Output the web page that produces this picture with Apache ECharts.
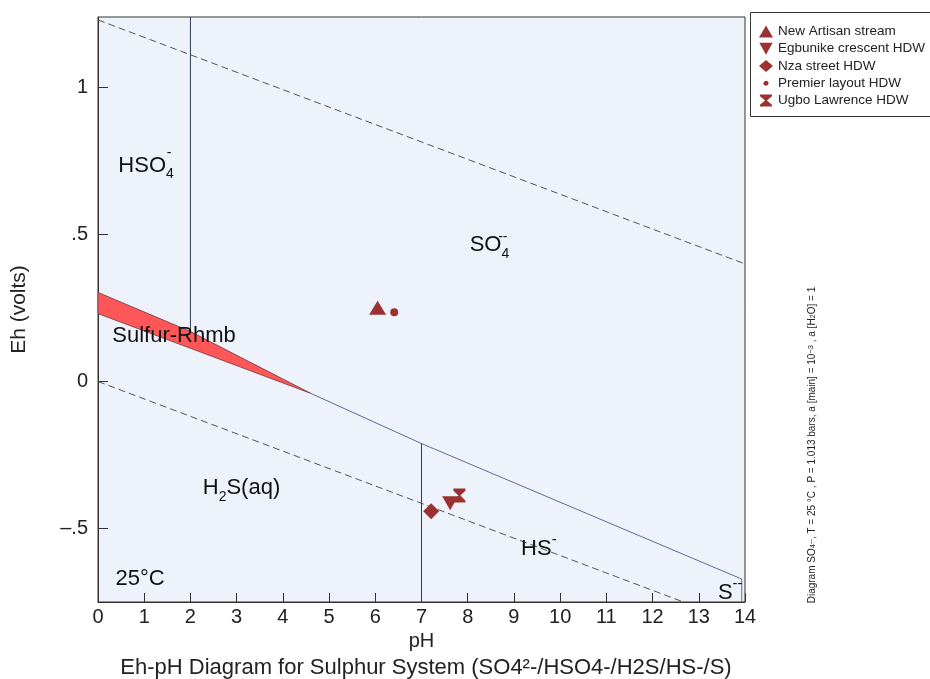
<!DOCTYPE html>
<html lang="en">
<head>
<meta charset="UTF-8">
<title>Eh-pH Diagram for Sulphur System</title>
<script src="https://cdn.jsdelivr.net/npm/echarts@6/dist/echarts.min.js"></script>
<style>
    html, body { margin: 0; padding: 0; background: #fff; }
    #main { width: 930px; height: 679px; }
</style>
</head>
<body>
<div id="main"></div>
<script>
    // sample points, [pH, Eh]
    let artisan = [[6.05, 0.251]];
    let egbunike = [[7.62, -0.414]];
    let nza = [[7.21, -0.441]];
    let premier = [[6.41, 0.236]];
    let ugbo = [[7.82, -0.388]];

    // stability field boundaries, [pH, Eh]
    let waterTop = [[0, 1.23], [14, 0.40]];
    let waterBottom = [[0, 0], [12.67, -0.75]];
    let sulfurField = [[0, 0.303], [2, 0.17], [4.6, -0.04], [0, 0.231]];
    let hso4Line = [[2, 1.24], [2, 0.17]];
    let so4Line = [[4.6, -0.04], [7, -0.211], [13.93, -0.672]];
    let h2sLine = [[7, -0.211], [7, -0.75]];
    let hsLine = [[13.93, -0.672], [13.93, -0.75]];

    // field names, [pH, Eh, text]
    let fieldNames = [
        [1.04, 0.735, '{m|HSO}{b|4}'],
        [8.47, 0.463, '{m|SO}{b|4}'],
        [1.645, 0.156, '{m|Sulfur-Rhmb}'],
        [3.105, -0.361, '{m|H}{b|2}{m|S(aq)}'],
        [9.54, -0.568, '{m|HS}{p|-}'],
        [13.68, -0.718, '{m|S}{p|--}'],
        [0.91, -0.670, '{m|25°C}']
    ];
    // charges written over the subscript, [pH, Eh, text]
    let charges = [
        [1.54, 0.776, '-'],
        [8.76, 0.492, '--']
    ];

    let yTicks = [-0.5, 0, 0.5, 1];
    let yTickLabels = ['\u2013.5', '0', '.5', '1'];

    let red = '#9a3232';
    let font = 'Liberation Sans, Arial, sans-serif';

    let myChart = echarts.init(document.getElementById('main'));

    function boundary(data, color, dashed) {
        return {
            type: 'line',
            data: data,
            symbol: 'none',
            silent: true,
            z: 3,
            lineStyle: { color: color, width: 1, type: dashed ? [7, 4] : 'solid' }
        };
    }

    function samples(name, data, symbol, size) {
        return {
            name: name,
            type: 'scatter',
            data: data,
            symbol: symbol,
            symbolSize: size,
            z: 6,
            itemStyle: { color: red, opacity: 1 }
        };
    }

    function texts(list, rich) {
        return {
            type: 'scatter',
            silent: true,
            symbolSize: 0,
            z: 5,
            itemStyle: { opacity: 1 },
            data: list.map(f => ({ value: [f[0], f[1]], label: { formatter: f[2] } })),
            label: {
                show: true,
                position: 'inside',
                color: '#111',
                opacity: 1,
                textBorderWidth: 0,
                fontSize: 14,
                fontFamily: font,
                rich: rich
            }
        };
    }

    let option = {
        animation: false,
        textStyle: { fontFamily: font },
        grid: {
            left: 98, right: 185, top: 17, bottom: 77,
            show: true,
            backgroundColor: '#eef2fa',
            borderColor: '#333',
            borderWidth: 1
        },
        title: {
            text: 'Eh-pH Diagram for Sulphur System (SO4²-/HSO4-/H2S/HS-/S)',
            left: 421,
            top: 652,
            textAlign: 'center',
            textStyle: { fontSize: 22, fontWeight: 'normal', color: '#222', fontFamily: font }
        },
        legend: {
            orient: 'vertical',
            left: 759,
            top: 24,
            itemWidth: 14,
            itemHeight: 12,
            itemGap: 2.25,
            padding: 0,
            z: 10,
            textStyle: { fontSize: 13.5, lineHeight: 15, color: '#222', fontFamily: font },
            data: [
                { name: 'New Artisan stream', icon: 'triangle' },
                { name: 'Egbunike crescent HDW', icon: 'path://M0,0L10,0L5,9Z' },
                { name: 'Nza street HDW', icon: 'diamond' },
                { name: 'Premier layout HDW', icon: 'path://M0,0L0,0M12,12L12,12M6,3.5A2.5,2.5,0,1,1,5.99,3.5Z' },
                { name: 'Ugbo Lawrence HDW', icon: 'path://M0,0H10V1.5L5.8,5L10,8.5V10H0V8.5L4.2,5L0,1.5Z' }
            ]
        },
        graphic: [
            {
                type: 'rect',
                shape: { x: 750.5, y: 12.5, width: 182, height: 104 },
                style: { fill: '#fff', stroke: '#333', lineWidth: 1 },
                z: 1
            },
            {
                type: 'text',
                x: 812,
                y: 445,
                rotation: Math.PI / 2,
                style: {
                    text: 'Diagram SO{sb|4}{sp|--}, T = 25 °C , P = 1.013 bars, a [main] = 10{sp|\u22123} , a [H{sb|2}O] = 1',
                    align: 'center',
                    verticalAlign: 'middle',
                    fontSize: 10,
                    fontFamily: font,
                    fill: '#222',
                    rich: {
                        sb: { fontSize: 7.5, verticalAlign: 'bottom', lineHeight: 7 },
                        sp: { fontSize: 7.5, verticalAlign: 'top', lineHeight: 7 }
                    }
                }
            }
        ],
        xAxis: {
            type: 'value',
            min: 0,
            max: 14,
            interval: 1,
            name: 'pH',
            nameLocation: 'middle',
            nameGap: 23,
            nameTextStyle: { fontSize: 20, color: '#222' },
            axisLine: { onZero: false, lineStyle: { color: '#333' } },
            axisTick: { inside: true, length: 9, lineStyle: { color: '#333' } },
            axisLabel: { fontSize: 20, color: '#222', margin: 5 },
            splitLine: { show: false }
        },
        yAxis: {
            type: 'value',
            min: -0.75,
            max: 1.24,
            name: 'Eh (volts)',
            nameLocation: 'middle',
            nameGap: 68,
            nameTextStyle: { fontSize: 21, color: '#222' },
            axisLine: { show: true, onZero: false, lineStyle: { color: '#333' } },
            axisTick: { show: true, inside: true, length: 10, customValues: yTicks, lineStyle: { color: '#333' } },
            axisLabel: {
                fontSize: 20,
                color: '#222',
                margin: 10,
                customValues: yTicks,
                formatter: v => yTickLabels[yTicks.indexOf(v)]
            },
            splitLine: { show: false }
        },
        series: [
            {
                type: 'custom',
                silent: true,
                z: 2,
                data: [[0, 0]],
                renderItem: (params, api) => ({
                    type: 'polygon',
                    shape: { points: sulfurField.map(p => api.coord(p)) },
                    style: { fill: '#ff5757', stroke: '#8a4650', lineWidth: 1 }
                })
            },
            boundary(waterTop, '#555', true),
            boundary(waterBottom, '#555', true),
            boundary(hso4Line, '#2b3a55', false),
            boundary(so4Line, '#5b6f92', false),
            boundary(h2sLine, '#2b3a55', false),
            boundary(hsLine, '#5b6f92', false),
            texts(fieldNames, {
                m: { fontSize: 22, lineHeight: 32, color: '#111', fontFamily: font },
                b: { fontSize: 14, lineHeight: 8, verticalAlign: 'bottom', color: '#111', fontFamily: font },
                p: { fontSize: 15, lineHeight: 8, verticalAlign: 'top', color: '#111', fontFamily: font }
            }),
            texts(charges, {}),
            samples('New Artisan stream', artisan, 'triangle', [17, 14]),
            samples('Egbunike crescent HDW', egbunike, 'path://M0,0L10,0L5,9Z', [16, 14]),
            samples('Nza street HDW', nza, 'diamond', 16),
            samples('Premier layout HDW', premier, 'circle', 8),
            samples('Ugbo Lawrence HDW', ugbo, 'path://M0,0H10V1.5L5.8,5L10,8.5V10H0V8.5L4.2,5L0,1.5Z', [12, 14])
        ]
    };

    myChart.setOption(option);
</script>
</body>
</html>
